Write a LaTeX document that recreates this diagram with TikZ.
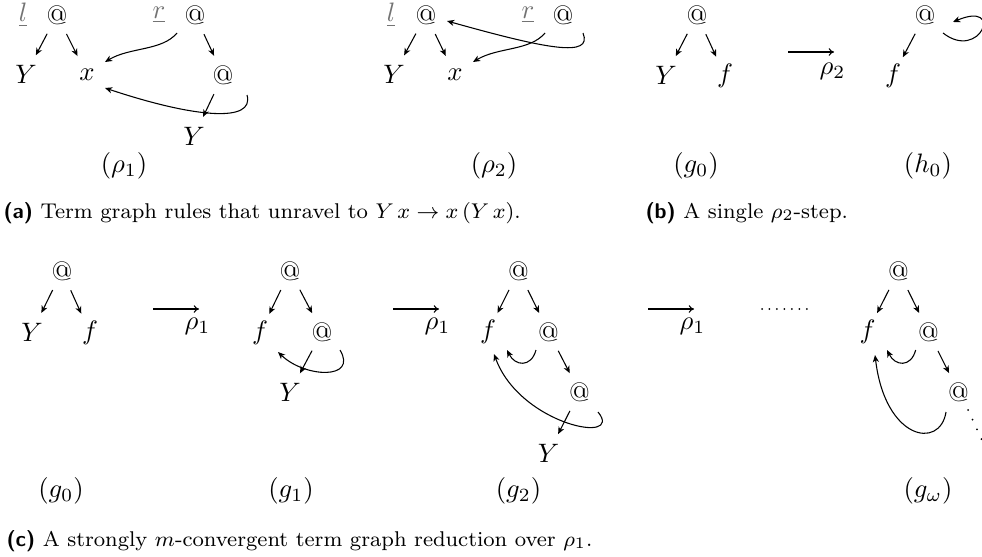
\documentclass[tikz,border=0pt]{standalone}
\usetikzlibrary{arrows.meta}
\begin{document}
\begin{tikzpicture}[x=0.375pt,y=-0.375pt,
  v/.style={circle,inner sep=0pt,minimum size=15.5pt},
  e/.style={-{Stealth[length=2.7pt,width=2.3pt,inset=0.8pt]},line width=0.4pt},
  stp/.style={-{Computer Modern Rightarrow[length=2pt,width=2.9pt]},line width=0.4pt},
  lab/.style={inner sep=0pt},
  captext/.style={inner sep=0pt,anchor=base west,font=\footnotesize},
  rl/.style={inner sep=0pt,text=black!55},
  dotsh/.style={line width=0.75pt,line cap=round,dash pattern=on 0pt off 2.8pt},
  dotsd/.style={line width=0.75pt,line cap=round,dash pattern=on 0pt off 4pt}]
\useasboundingbox (0,0) rectangle (982,556);
% ---------- (rho1)
\node[rl] (l1) at (23,15) {$\underline{l}$};
\node[v] (a1) at (57,15) {@};
\node[v] (y1) at (26,74) {$Y$};
\node[v] (x1) at (87,75) {$x$};
\node[rl] (r1) at (159,15) {$\underline{r}$};
\node[v] (b1) at (195,15) {@};
\node[v] (c1) at (223,75) {@};
\node[v] (z1) at (194,136) {$Y$};
\node[lab] (rho1) at (124,166) {$(\rho_1)$};
\draw[e] (a1) -- (y1);
\draw[e] (a1) -- (x1);
\draw[e] (b1) -- (c1);
\draw[e] (c1) -- (z1);
\draw[e] ([shift={(-18,18)}]b1.center) .. controls +(-15,18) and +(25,-15) .. ([shift={(18,-13)}]x1.center);
\draw[e] ([shift={(24,20)}]c1.center) .. controls +(8,28) and +(90,30) .. ([shift={(18,13)}]x1.center);
% ---------- (rho2)
\node[rl] (l2) at (391,15) {$\underline{l}$};
\node[v] (a2) at (426,15) {@};
\node[v] (y2) at (394,74) {$Y$};
\node[v] (x2) at (455,75) {$x$};
\node[rl] (r2) at (528,15) {$\underline{r}$};
\node[v] (b2) at (563,15) {@};
\node[lab] (rho2) at (494,166) {$(\rho_2)$};
\draw[e] (a2) -- (y2);
\draw[e] (a2) -- (x2);
\draw[e] ([shift={(-18,18)}]b2.center) .. controls +(-15,18) and +(25,-15) .. ([shift={(18,-13)}]x2.center);
\draw[e] ([shift={(20,18)}]b2.center) .. controls +(10,25) and +(100,28) .. ([shift={(21,6)}]a2.center);
% ---------- (b)
\node[v] (a3) at (697,15) {@};
\node[v] (y3) at (666,75) {$Y$};
\node[v] (f3) at (725,76) {$f$};
\coordinate (s0a) at (788,52);
\coordinate (s0b) at (834,52);
\draw[stp] (s0a) -- (s0b);
\node[lab] (q0) at (832.5,71) {$\rho_2$};
\node[v] (a4) at (925,15) {@};
\node[v] (f4) at (893,76) {$f$};
\draw[e] (a3) -- (y3);
\draw[e] (a3) -- (f3);
\draw[e] (a4) -- (f4);
\draw[e] ([shift={(18,18)}]a4.center) .. controls +(37,29) and +(52,-22) .. ([shift={(28,7)}]a4.center);
\node[lab] (g0a) at (696,166) {$(g_0)$};
\node[lab] (h0) at (928,166) {$(h_0)$};
% ---------- captions
\node[captext] (capa) at (3,218) {\textsf{\bfseries (a)} Term graph rules that unravel to $Y\,x\to x\,(Y\,x)$.};
\node[captext] (capb) at (645,218) {\textsf{\bfseries (b)} A single $\rho_2$-step.};
\node[captext] (capc) at (6,546) {\textsf{\bfseries (c)} A strongly $m$-convergent term graph reduction over $\rho_1$.};
% ---------- (c) g0
\node[v] (a5) at (62,271) {@};
\node[v] (y5) at (32,332) {$Y$};
\node[v] (f5) at (90,333) {$f$};
\draw[e] (a5) -- (y5);
\draw[e] (a5) -- (f5);
\coordinate (s1a) at (153,309);
\coordinate (s1b) at (199,309);
\draw[stp] (s1a) -- (s1b);
\node[lab] (p1) at (197.5,326.5) {$\rho_1$};
% g1
\node[v] (a6) at (290,271) {@};
\node[v] (f6) at (260,333) {$f$};
\node[v] (b6) at (322,332) {@};
\node[v] (y6) at (290,392) {$Y$};
\draw[e] (a6) -- (f6);
\draw[e] (a6) -- (b6);
\draw[e] (b6) -- (y6);
\draw[e] ([shift={(18,18)}]b6.center) .. controls +(18,30) and +(27,26) .. ([shift={(18,19)}]f6.center);
\coordinate (s2a) at (393,309);
\coordinate (s2b) at (439,309);
\draw[stp] (s2a) -- (s2b);
\node[lab] (p2) at (437.5,326.5) {$\rho_1$};
% g2
\node[v] (a7) at (518.5,271) {@};
\node[v] (f7) at (488,332) {$f$};
\node[v] (b7) at (548.5,332) {@};
\node[v] (c7) at (579.5,392) {@};
\node[v] (y7) at (548.5,453) {$Y$};
\draw[e] (a7) -- (f7);
\draw[e] (a7) -- (b7);
\draw[e] (b7) -- (c7);
\draw[e] (c7) -- (y7);
\draw[e] ([shift={(-12.5,18)}]b7.center) .. controls +(-5,18) and +(8,16) .. ([shift={(19,18)}]f7.center);
\draw[e] ([shift={(18.5,20)}]c7.center) .. controls +(27,33) and +(26,71) .. ([shift={(6,22)}]f7.center);
\coordinate (s3a) at (648,309);
\coordinate (s3b) at (694,309);
\draw[stp] (s3a) -- (s3b);
\node[lab] (p3) at (692.5,326.5) {$\rho_1$};
\coordinate (d1) at (762,309);
\coordinate (d2) at (807,309);
\draw[dotsh] (d1) -- (d2);
% g omega
\node[v] (a8) at (898.5,271) {@};
\node[v] (f8) at (867.5,332) {$f$};
\node[v] (b8) at (928.5,332) {@};
\node[v] (c8) at (958.5,392) {@};
\draw[e] (a8) -- (f8);
\draw[e] (a8) -- (b8);
\draw[e] (b8) -- (c8);
\draw[e] ([shift={(-12.8,18)}]b8.center) .. controls +(-5,18) and +(8,16) .. ([shift={(19.5,18)}]f8.center);
\draw[e] ([shift={(-12.5,20)}]c8.center) .. controls +(-6,38) and +(10,85) .. ([shift={(7.5,23)}]f8.center);
\coordinate (e8) at (994,466);
\draw[dotsd] ([shift={(9.5,18)}]c8.center) -- (e8);
% labels row (c)
\node[lab] (lg0) at (61,491) {$(g_0)$};
\node[lab] (lg1) at (291,491) {$(g_1)$};
\node[lab] (lg2) at (518.5,491) {$(g_2)$};
\node[lab] (lgw) at (928,491) {$(g_\omega)$};
\end{tikzpicture}
\end{document}
